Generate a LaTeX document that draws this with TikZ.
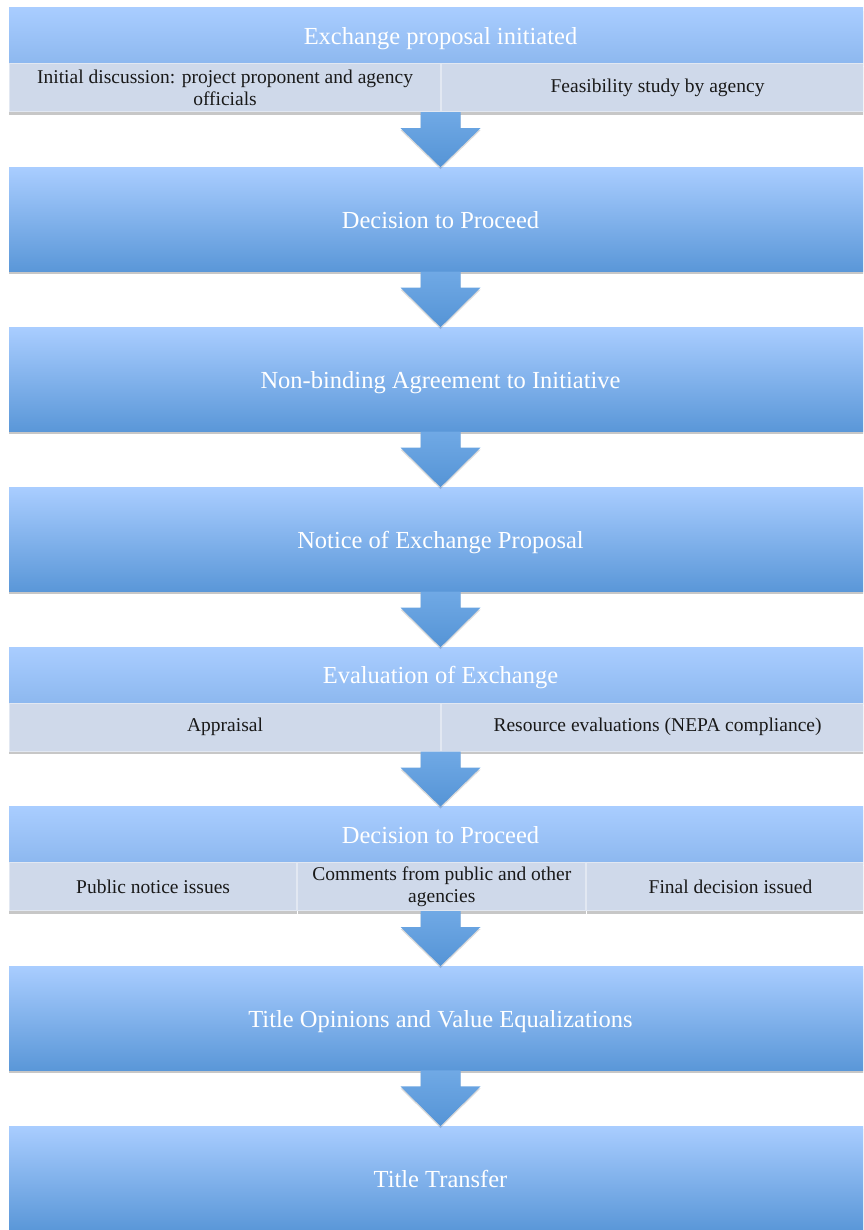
\documentclass[tikz,border=0pt]{standalone}
\usepackage{fontspec}
\setmainfont{Liberation Serif}
\usetikzlibrary{positioning,calc,shadows}

\definecolor{boxtop}{HTML}{A9CDFF}
\definecolor{boxbot}{HTML}{5A97D8}
\definecolor{headbot}{HTML}{8DB8EF}
\definecolor{cellfill}{HTML}{CFD9EA}
\definecolor{cellline}{HTML}{E2E8F2}
\definecolor{arrowtop}{HTML}{70A9E5}
\definecolor{arrowbot}{HTML}{5594D6}

\tikzset{
  boxshadow/.style={drop shadow={shadow xshift=0pt, shadow yshift=-3pt, fill=black, opacity=0.22}},
  stage/.style={minimum width=863pt, minimum height=104pt, inner sep=0pt,
    top color=boxtop, bottom color=boxbot, text=white,
    text height=21pt, text depth=3pt,
    font=\fontsize{24.5}{28}\selectfont, boxshadow},
  stagehead/.style={stage, minimum height=55pt, bottom color=headbot},
  cell/.style={minimum height=48pt, inner sep=0pt, fill=cellfill, draw=cellline,
    line width=1pt, text=black!90, align=center,
    font=\fontsize{19.5}{22}\selectfont, boxshadow, anchor=north west},
  halfcell/.style={cell, minimum width=431.5pt},
  thirdcell/.style={cell, minimum width=287.67pt},
  flow/.style={top color=arrowtop, bottom color=arrowbot,
    drop shadow={shadow xshift=0pt, shadow yshift=-2pt, fill=black, opacity=0.15}}
}

% block arrow from the bottom of one stage to the top of the next
\newcommand\flowarrow[2]{%
  \path[flow] ($(#1)+(-20,0)$) -- ($(#1)+(20,0)$) -- ($(#1)+(20,-16)$)
    -- ($(#1)+(40,-16)$) -- (#2) -- ($(#1)+(-40,-16)$)
    -- ($(#1)+(-20,-16)$) -- cycle;}

\begin{document}
\begin{tikzpicture}[x=1pt,y=1pt]
  \useasboundingbox (0,0) rectangle (863,-1230);
  \clip (0,0) rectangle (863,-1230);

  % Stage 1 with its two steps
  \node[stagehead] (h1) at (440.5,-35.5) {Exchange proposal initiated};
  \node[halfcell] (c1a) at (h1.south west) {Initial discussion: project proponent and agency\\officials};
  \node[halfcell] (c1b) at (c1a.north east) {Feasibility study by agency};
  \coordinate (r1) at (c1a.south -| h1.south);

  % Plain stages
  \node[stage, below=55pt of r1] (s2) {Decision to Proceed};
  \node[stage, below=55.6pt of s2] (s3) {Non-binding Agreement to Initiative};
  \node[stage, below=55.6pt of s3] (s4) {Notice of Exchange Proposal};

  % Evaluation
  \node[stagehead, below=55.6pt of s4] (h5) {Evaluation of Exchange};
  \node[halfcell] (c5a) at (h5.south west) {Appraisal};
  \node[halfcell] (c5b) at (c5a.north east) {Resource evaluations (NEPA compliance)};
  \coordinate (r5) at (c5a.south -| h5.south);

  % Decision with three steps
  \node[stagehead, below=55pt of r5] (h6) {Decision to Proceed};
  \node[thirdcell] (c6a) at (h6.south west) {Public notice issues};
  \node[thirdcell] (c6b) at (c6a.north east) {Comments from public and other\\agencies};
  \node[thirdcell] (c6c) at (c6b.north east) {Final decision issued};
  \coordinate (r6) at (c6b.south -| h6.south);

  \node[stage, below=55pt of r6] (s7) {Title Opinions and Value Equalizations};
  \node[stage, below=55.6pt of s7] (s8) {Title Transfer};

  % Arrows
  \flowarrow{r1}{s2.north}
  \flowarrow{s2.south}{s3.north}
  \flowarrow{s3.south}{s4.north}
  \flowarrow{s4.south}{h5.north}
  \flowarrow{r5}{h6.north}
  \flowarrow{r6}{s7.north}
  \flowarrow{s7.south}{s8.north}
\end{tikzpicture}
\end{document}
